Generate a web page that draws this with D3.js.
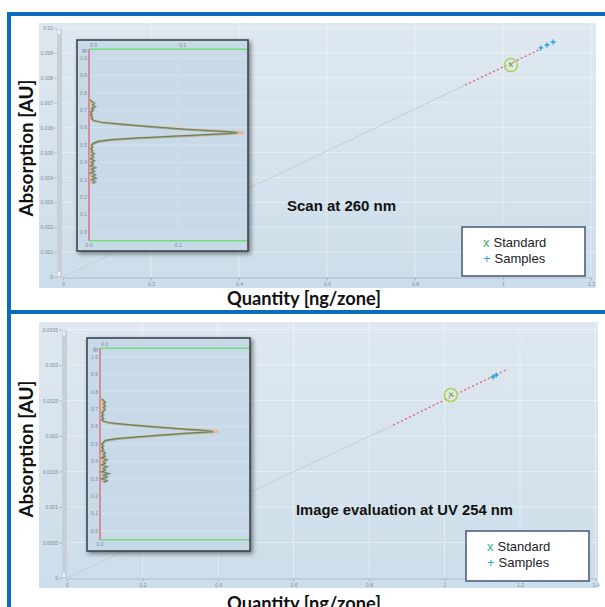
<!DOCTYPE html>
<html>
<head>
<meta charset="utf-8">
<script src="https://cdn.jsdelivr.net/npm/d3@7"></script>
<style>
  html, body { margin: 0; padding: 0; background: #fff; }
  svg { display: block; }
</style>
</head>
<body>
<div id="chart"></div>
<script>
// ---- panel 1: scan at 260 nm ----
const scanStdX = [1.018];
const scanStdY = [0.00851];
const scanSampleX = [1.086, 1.100, 1.114];
const scanSampleY = [0.00920, 0.00932, 0.00944];
const scanFitX = [0, 0.914, 1.085]; // solid up to [1], dashed to [2]
const scanFitY = [0, 0.00771, 0.00915];
const scanXTicks = [0, 0.2, 0.4, 0.6, 0.8, 1, 1.2];
const scanYTicks = [0, 0.001, 0.002, 0.003, 0.004, 0.005, 0.006, 0.007, 0.008, 0.009, 0.01];

// ---- panel 2: image evaluation at UV 254 nm ----
const imgStdX = [1.017];
const imgStdY = [0.002577];
const imgSampleX = [1.128, 1.137];
const imgSampleY = [0.00283, 0.00286];
const imgFitX = [0, 0.864, 1.168];
const imgFitY = [0, 0.002153, 0.002944];
const imgXTicks = [0, 0.2, 0.4, 0.6, 0.8, 1, 1.2, 1.4];
const imgYTicks = [0, 0.0005, 0.001, 0.0015, 0.002, 0.0025, 0.003, 0.0035];

// ---- inset densitograms (Rf vs signal) ----
const insetRfTicks = [0, 0.1, 0.2, 0.3, 0.4, 0.5, 0.6, 0.7, 0.8, 0.9, 1.0];
const profileRf = [0.28, 0.29, 0.30, 0.31, 0.32, 0.33, 0.34, 0.35, 0.36, 0.37, 0.38, 0.39, 0.40, 0.41,
  0.42, 0.43, 0.44, 0.45, 0.46, 0.47, 0.48, 0.49, 0.50, 0.51, 0.52, 0.53, 0.54, 0.545, 0.55, 0.555,
  0.56, 0.565, 0.57, 0.575, 0.58, 0.585, 0.59, 0.595, 0.60, 0.61, 0.62, 0.63, 0.64, 0.65, 0.66, 0.67,
  0.68, 0.69, 0.70, 0.71, 0.72, 0.73, 0.74, 0.75, 0.76];
const scanTrackGreen = [0.004, 0.007, 0.003, 0.008, 0.004, 0.007, 0.002, 0.006, 0.003, 0.007, 0.002, 0.005, 0.003, 0.006,
  0.002, 0.005, 0.003, 0.006, 0.003, 0.004, 0.002, 0.004, 0.003, 0.005, 0.010, 0.024, 0.055, 0.075, 0.095, 0.115,
  0.135, 0.155, 0.166, 0.160, 0.142, 0.125, 0.106, 0.094, 0.080, 0.056, 0.033, 0.014, 0.005, 0.003, 0.004, 0.002,
  0.003, 0.002, 0.005, 0.003, 0.007, 0.004, 0.006, 0.003, 0.001];
const scanTrackPeach = [0.002, 0.003, 0.002, 0.004, 0.002, 0.003, 0.002, 0.004, 0.002, 0.003, 0.002, 0.003, 0.002, 0.003,
  0.002, 0.003, 0.002, 0.003, 0.002, 0.003, 0.002, 0.003, 0.003, 0.005, 0.011, 0.027, 0.058, 0.079, 0.099, 0.119,
  0.140, 0.160, 0.174, 0.168, 0.148, 0.130, 0.111, 0.097, 0.083, 0.058, 0.035, 0.015, 0.006, 0.003, 0.002, 0.003,
  0.002, 0.003, 0.003, 0.004, 0.003, 0.004, 0.003, 0.002, 0.001];
const imgTrackGreen = [0.002, 0.004, 0.001, 0.004, 0.002, 0.005, 0.001, 0.003, 0.002, 0.004, 0.001, 0.003, 0.002, 0.004,
  0.001, 0.003, 0.002, 0.003, 0.001, 0.002, 0.001, 0.002, 0.001, 0.002, 0.003, 0.009, 0.021, 0.027, 0.033, 0.040,
  0.047, 0.055, 0.064, 0.062, 0.056, 0.048, 0.041, 0.035, 0.028, 0.016, 0.006, 0.002, 0.001, 0.002, 0.001, 0.002,
  0.001, 0.002, 0.003, 0.002, 0.003, 0.002, 0.003, 0.002, 0.001];
const imgTrackPeach = [0.001, 0.002, 0.001, 0.002, 0.001, 0.002, 0.001, 0.002, 0.001, 0.002, 0.001, 0.002, 0.001, 0.002,
  0.001, 0.002, 0.001, 0.002, 0.001, 0.001, 0.001, 0.001, 0.001, 0.002, 0.004, 0.010, 0.022, 0.028, 0.035, 0.042,
  0.049, 0.058, 0.067, 0.065, 0.058, 0.050, 0.043, 0.036, 0.029, 0.017, 0.007, 0.002, 0.001, 0.001, 0.001, 0.001,
  0.001, 0.001, 0.002, 0.001, 0.002, 0.001, 0.002, 0.001, 0.001];

const legendLabels = ["Standard", "Samples"];

const W = 605, H = 607;
const svg = d3.select("#chart").append("svg").attr("width", W).attr("height", H);
const defs = svg.append("defs");

const grad = defs.append("linearGradient").attr("id", "plotBg").attr("x1", 0).attr("x2", 0).attr("y1", 0).attr("y2", 1);
grad.append("stop").attr("offset", "0%").attr("stop-color", "#dfe8f0");
grad.append("stop").attr("offset", "100%").attr("stop-color", "#ccdeea");

defs.append("filter").attr("id", "shadow").attr("x", "-10%").attr("y", "-10%").attr("width", "130%").attr("height", "130%")
  .append("feDropShadow").attr("dx", 2).attr("dy", 2).attr("stdDeviation", 2)
  .attr("flood-color", "#222").attr("flood-opacity", 0.55);

function drawPanel(p) {
  const g = svg.append("g");

  // plot background
  g.append("rect").attr("x", p.bg[0]).attr("y", p.bg[1])
    .attr("width", p.bg[2] - p.bg[0]).attr("height", p.bg[3] - p.bg[1])
    .attr("fill", "url(#plotBg)");

  const x = d3.scaleLinear().domain(p.xDomain).range(p.xRange);
  const y = d3.scaleLinear().domain(p.yDomain).range(p.yRange);

  // faint grid
  g.append("g").selectAll("line").data(p.xTicks.slice(1)).join("line")
    .attr("x1", d => x(d)).attr("x2", d => x(d))
    .attr("y1", p.bg[1]).attr("y2", y(0))
    .attr("stroke", "#fff").attr("stroke-opacity", 0.4);
  g.append("g").selectAll("line").data(p.yTicks.slice(1)).join("line")
    .attr("x1", x(0)).attr("x2", p.bg[2])
    .attr("y1", d => y(d)).attr("y2", d => y(d))
    .attr("stroke", "#fff").attr("stroke-opacity", 0.4);

  // grey rail next to the y axis
  g.append("rect").attr("x", p.railX).attr("y", y(p.yDomain[1]) + 1)
    .attr("width", 5).attr("height", y(0) - y(p.yDomain[1]))
    .attr("fill", "#c8cfd5");
  g.append("rect").attr("x", p.railX + 1).attr("y", y(0) - 5)
    .attr("width", 2).attr("height", 4).attr("fill", "#f4f6f8");
  g.append("rect").attr("x", p.railX + 1).attr("y", y(p.yDomain[1]) + 2)
    .attr("width", 2).attr("height", 4).attr("fill", "#f4f6f8");

  // axes
  const yAxis = g.append("g").attr("transform", `translate(${p.railX},0)`)
    .call(d3.axisLeft(y).tickValues(p.yTicks).tickSize(3).tickPadding(1).tickFormat(d3.format("~g")));
  const xAxis = g.append("g").attr("transform", `translate(0,${y(0) + 0.5})`)
    .call(d3.axisBottom(x).tickValues(p.xTicks).tickSize(3).tickSizeOuter(0).tickPadding(2).tickFormat(d3.format("~g")));
  yAxis.select(".domain").remove();
  [yAxis, xAxis].forEach(a => {
    a.selectAll("text").attr("font-size", 5).attr("fill", "#7f8c98").attr("font-family", "Liberation Sans, Arial, sans-serif");
    a.selectAll("line").attr("stroke", "#9aa6b0").attr("stroke-width", 0.6);
  });
  xAxis.select(".domain").attr("stroke", "#aab4be").attr("stroke-width", 0.8);

  // calibration line
  g.append("line")
    .attr("x1", x(p.fitX[0])).attr("y1", y(p.fitY[0]))
    .attr("x2", x(p.fitX[1])).attr("y2", y(p.fitY[1]))
    .attr("stroke", "#c6cdd5").attr("stroke-width", 1);
  g.append("line")
    .attr("x1", x(p.fitX[1])).attr("y1", y(p.fitY[1]))
    .attr("x2", x(p.fitX[2])).attr("y2", y(p.fitY[2]))
    .attr("stroke", "#d65f7c").attr("stroke-width", 1.3).attr("stroke-dasharray", "2,2.4");

  // standard
  p.stdX.forEach((sx, i) => {
    const cx = x(sx), cy = y(p.stdY[i]);
    g.append("circle").attr("cx", cx).attr("cy", cy).attr("r", 6.5)
      .attr("fill", "#e4f0c8").attr("fill-opacity", 0.35)
      .attr("stroke", "#a8d35a").attr("stroke-width", 1.5);
    g.append("path").attr("d", `M${cx - 1.8},${cy - 2.5}L${cx + 1.8},${cy + 1.5}M${cx + 1.8},${cy - 2.5}L${cx - 1.8},${cy + 1.5}`)
      .attr("stroke", "#6aae4e").attr("stroke-width", 1.1);
  });

  // samples
  p.sampleX.forEach((sx, i) => {
    const cx = x(sx), cy = y(p.sampleY[i]);
    g.append("path").attr("d", `M${cx - 2.5},${cy}L${cx + 2.5},${cy}M${cx},${cy - 2.5}L${cx},${cy + 2.5}`)
      .attr("stroke", "#2fa3d6").attr("stroke-width", 1.4);
  });

  drawInset(g, p.inset);

  // panel title
  g.append("text").attr("x", p.title.x).attr("y", p.title.y)
    .attr("font-family", "Liberation Sans, Arial, sans-serif").attr("font-weight", "bold")
    .attr("font-size", 14).attr("fill", "#111")
    .attr("textLength", p.title.len).attr("lengthAdjust", "spacingAndGlyphs")
    .text(p.title.text);

  // legend
  const lg = g.append("g").attr("transform", `translate(${p.legend[0]},${p.legend[1]})`);
  lg.append("rect").attr("width", p.legend[2]).attr("height", p.legend[3])
    .attr("fill", "#fff").attr("stroke", "#4f6080").attr("stroke-width", 1.6);
  const marks = [{ s: "x", c: "#3bb26a" }, { s: "+", c: "#2fa3d6" }];
  legendLabels.forEach((lab, i) => {
    const row = lg.append("text").attr("x", 21).attr("y", 20 + i * 16)
      .attr("font-family", "Liberation Sans, Arial, sans-serif").attr("font-size", 13);
    row.append("tspan").attr("fill", marks[i].c).text(marks[i].s);
    row.append("tspan").attr("fill", "#222").attr("dx", 4).text(lab);
  });

  // axis titles
  g.append("text")
    .attr("transform", `translate(${p.yTitle[0]},${p.yTitle[1]}) rotate(-90)`)
    .attr("text-anchor", "middle").attr("font-family", "Lato, Open Sans, sans-serif")
    .attr("font-weight", "bold").attr("font-size", 18).attr("fill", "#111")
    .attr("textLength", 137).attr("lengthAdjust", "spacingAndGlyphs")
    .text("Absorption [AU]");
  g.append("text")
    .attr("x", p.xTitle[0]).attr("y", p.xTitle[1])
    .attr("text-anchor", "middle").attr("font-family", "Lato, Open Sans, sans-serif")
    .attr("font-weight", "bold").attr("font-size", 18).attr("fill", "#111")
    .attr("textLength", 154).attr("lengthAdjust", "spacingAndGlyphs")
    .text("Quantity [ng/zone]");
}

function drawInset(parent, s) {
  const g = parent.append("g");
  g.append("rect").attr("x", s.box[0]).attr("y", s.box[1])
    .attr("width", s.box[2] - s.box[0]).attr("height", s.box[3] - s.box[1])
    .attr("fill", "#c8dae8").attr("stroke", "#3d474f").attr("stroke-width", 1.6)
    .attr("filter", "url(#shadow)");

  const sx = d3.scaleLinear().domain(s.valueDomain).range([s.x0, s.box[2]]);
  const sy = d3.scaleLinear().domain([0, 1]).range(s.rfRange);
  const font = "Liberation Sans, Arial, sans-serif";

  // grid
  g.append("g").selectAll("line").data(insetRfTicks).join("line")
    .attr("x1", s.x0).attr("x2", s.box[2] - 1)
    .attr("y1", d => sy(d)).attr("y2", d => sy(d))
    .attr("stroke", "#dbe6ef").attr("stroke-width", 0.6);
  g.append("g").selectAll("line").data(s.xTicks.filter(d => d > 0)).join("line")
    .attr("x1", d => sx(d)).attr("x2", d => sx(d))
    .attr("y1", sy(1.05)).attr("y2", sy(-0.05))
    .attr("stroke", "#dbe6ef").attr("stroke-width", 0.6);

  // start / front lines
  [1.05, -0.05].forEach(rf => {
    g.append("line").attr("x1", s.x0).attr("x2", s.box[2] - 1)
      .attr("y1", sy(rf)).attr("y2", sy(rf))
      .attr("stroke", "#74dc7e").attr("stroke-width", 1.5);
  });
  g.append("line").attr("x1", s.x0).attr("x2", s.x0)
    .attr("y1", sy(1.05)).attr("y2", sy(-0.05))
    .attr("stroke", "#e35f6e").attr("stroke-width", 1.3);

  // labels
  g.append("g").selectAll("text").data(insetRfTicks).join("text")
    .attr("x", s.x0 - 2).attr("y", d => sy(d) + 1.8)
    .attr("text-anchor", "end").attr("font-size", 5).attr("font-family", font).attr("fill", "#7b8b9b")
    .text(d3.format(".1f"));
  s.xTicks.forEach(t => {
    g.append("text").attr("x", sx(t) + 1).attr("y", sy(1.05) - 2)
      .attr("text-anchor", "start").attr("font-size", 5).attr("font-family", font).attr("fill", "#7b8b9b")
      .text(d3.format(".1f")(t));
    g.append("text").attr("x", sx(t)).attr("y", sy(-0.05) + 6)
      .attr("text-anchor", "middle").attr("font-size", 5).attr("font-family", font).attr("fill", "#7b8b9b")
      .text(d3.format(".1f")(t));
  });
  g.append("text").attr("x", s.x0 - 2).attr("y", sy(1.05) + 3.5)
    .attr("text-anchor", "end")
    .attr("font-size", 5).attr("font-family", font).attr("fill", "#6a7a8a").text("Rf");

  // tracks
  const line = d3.line().x(d => sx(d[1])).y(d => sy(d[0]));
  g.append("path").datum(d3.zip(profileRf, s.peach)).attr("d", line)
    .attr("fill", "none").attr("stroke", "#e9b896").attr("stroke-width", 2.4);
  g.append("path").datum(d3.zip(profileRf, s.green)).attr("d", line)
    .attr("fill", "none").attr("stroke", "#4f7a55").attr("stroke-width", 1.5).attr("stroke-opacity", 0.85);
  g.append("path").datum(d3.zip(profileRf, s.green)).attr("d", line)
    .attr("fill", "none").attr("stroke", "#98a49a").attr("stroke-width", 0.6)
    .attr("transform", "translate(1,0.8)");
}

// panel frames
svg.append("rect").attr("x", 7).attr("y", 12).attr("width", W - 7).attr("height", 4).attr("fill", "#0b6bbd");
svg.append("rect").attr("x", 7).attr("y", 310).attr("width", W - 7).attr("height", 4).attr("fill", "#0b6bbd");
svg.append("rect").attr("x", 7).attr("y", 12).attr("width", 4).attr("height", H - 12).attr("fill", "#0b6bbd");

drawPanel({
  bg: [39, 23, 596, 288],
  xDomain: [0, 1.2], xRange: [63, 591],
  yDomain: [0, 0.01], yRange: [277, 28],
  xTicks: scanXTicks, yTicks: scanYTicks,
  railX: 57,
  fitX: scanFitX, fitY: scanFitY,
  stdX: scanStdX, stdY: scanStdY,
  sampleX: scanSampleX, sampleY: scanSampleY,
  title: { text: "Scan at 260 nm", x: 287, y: 211, len: 109 },
  legend: [462, 227, 123, 49],
  yTitle: [33, 148], xTitle: [304, 305],
  inset: {
    box: [77, 40, 248, 251], x0: 89, rfRange: [232, 58],
    valueDomain: [0, 0.178], xTicks: [0, 0.1],
    green: scanTrackGreen, peach: scanTrackPeach
  }
});

drawPanel({
  bg: [39, 322, 598, 588],
  xDomain: [0, 1.4], xRange: [67, 595.5],
  yDomain: [0, 0.0035], yRange: [578, 329.5],
  xTicks: imgXTicks, yTicks: imgYTicks,
  railX: 62,
  fitX: imgFitX, fitY: imgFitY,
  stdX: imgStdX, stdY: imgStdY,
  sampleX: imgSampleX, sampleY: imgSampleY,
  title: { text: "Image evaluation at UV 254 nm", x: 296, y: 515, len: 217 },
  legend: [466, 531, 123, 50],
  yTitle: [33, 449], xTitle: [304, 610],
  inset: {
    box: [87, 338, 250, 551], x0: 100, rfRange: [531, 357],
    valueDomain: [0, 0.085], xTicks: [0],
    green: imgTrackGreen, peach: imgTrackPeach
  }
});
</script>
</body>
</html>
